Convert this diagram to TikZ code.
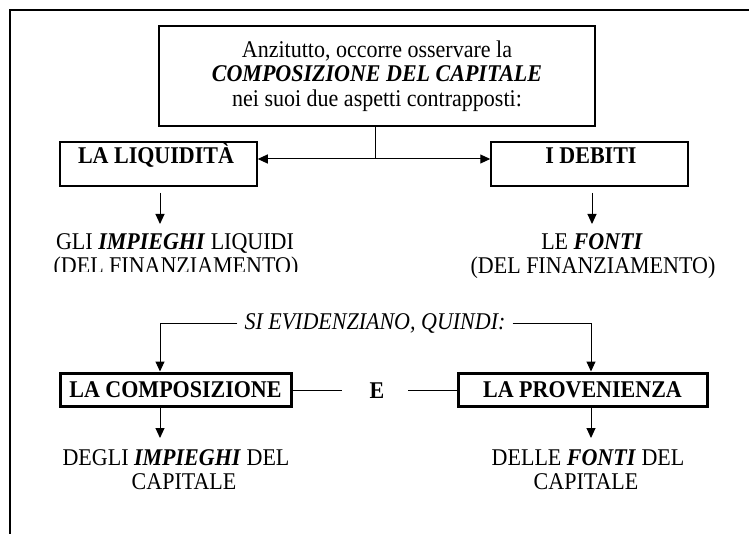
\documentclass[tikz,border=0pt]{standalone}
\usepackage{fontspec}
\setmainfont{Liberation Serif}[FakeStretch=0.917]
\usetikzlibrary{arrows.meta}
\begin{document}
\begin{tikzpicture}[x=1pt,y=-1pt,
  every node/.style={font=\fontsize{24}{24.5}\selectfont, inner sep=0pt},
  box/.style={draw, line width=1.5pt},
  heavybox/.style={draw, line width=3pt},
  arr/.style={-{Triangle[length=10pt,width=9pt]}, line width=1pt},
  dbl/.style={{Triangle[length=10pt,width=9pt]}-{Triangle[length=10pt,width=9pt]}, line width=1pt},
  ln/.style={line width=1pt}]
\useasboundingbox (0,0) rectangle (749,534);
\draw[line width=1.5pt] (749,10) -- (10,10) -- (10,534);

% top box
\node[box, minimum width=436pt, minimum height=100pt, align=center] (top) at (377,76)
  {Anzitutto, occorre osservare la\\ \textbf{\textit{COMPOSIZIONE DEL CAPITALE}}\\ nei suoi due aspetti contrapposti:};

% liquidita / debiti
\node[box, minimum width=197pt, minimum height=44pt] (liq) at (158.5,164) {};
\node[anchor=base] (liqt) at (156,164) {\textbf{LA LIQUIDITÀ}};
\node[box, minimum width=197pt, minimum height=44pt] (deb) at (589.5,164) {};
\node[anchor=base] (debt) at (591,164) {\textbf{I DEBITI}};

\coordinate (hub) at (375,159);
\draw[ln] (top.south -| hub) -- (hub);
\draw[dbl] (liq.east |- hub) -- (deb.west |- hub);

% arrows to impieghi / fonti
\coordinate (a1s) at (160,193);
\coordinate (a1e) at (160,224);
\coordinate (a2s) at (592,193);
\coordinate (a2e) at (592,224);
\draw[arr] (a1s) -- (a1e);
\draw[arr] (a2s) -- (a2e);

\node[anchor=base] (imp1) at (175,250) {GLI \textbf{\textit{IMPIEGHI}} LIQUIDI};
\begin{scope}
  \clip (30,255) rectangle (330,272);
  \node[anchor=base] (imp2) at (176,274) {(DEL FINANZIAMENTO)};
\end{scope}
\node[anchor=base] (fon1) at (592,250) {LE \textbf{\textit{FONTI}}};
\node[anchor=base] (fon2) at (593,274) {(DEL FINANZIAMENTO)};

% si evidenziano
\node[anchor=base, inner xsep=7pt] (si) at (375,330) {\textit{SI EVIDENZIANO, QUINDI:}};
\coordinate (siL) at (160,324);
\coordinate (siR) at (591,324);

\node[heavybox, minimum width=231pt, minimum height=33pt] (comp) at (175.5,389.5) {\textbf{LA COMPOSIZIONE}};
\node[heavybox, minimum width=249pt, minimum height=33pt] (prov) at (582.5,389.5) {\textbf{LA PROVENIENZA}};

\draw[arr] (si.west |- siL) -- (siL) -- (comp.north -| siL);
\draw[arr] (si.east |- siR) -- (siR) -- (prov.north -| siR);

\node (e) at (377,391) {\textbf{E}};
\coordinate (eL) at (342,390);
\coordinate (eR) at (408,390);
\draw[ln] (comp.east |- eL) -- (eL);
\draw[ln] (eR) -- (prov.west |- eR);

% bottom arrows
\coordinate (b1e) at (160,438);
\coordinate (b2e) at (591,438);
\draw[arr] (comp.south -| b1e) -- (b1e);
\draw[arr] (prov.south -| b2e) -- (b2e);

\node[anchor=base] (deg1) at (176,465) {DEGLI \textbf{\textit{IMPIEGHI}} DEL};
\node[anchor=base] (deg2) at (184,489) {CAPITALE};
\node[anchor=base] (del1) at (588,465) {DELLE \textbf{\textit{FONTI}} DEL};
\node[anchor=base] (del2) at (586,489) {CAPITALE};
\end{tikzpicture}
\end{document}
